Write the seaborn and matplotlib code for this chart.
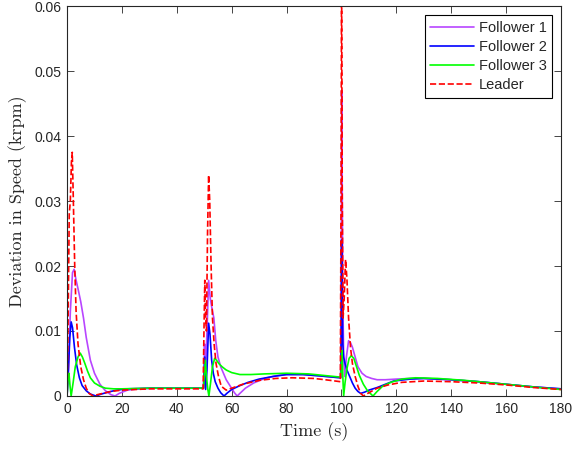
import matplotlib
matplotlib.use("Agg")
import matplotlib.pyplot as plt
import seaborn as sns
import pandas as pd

# --- data (time in s, deviation in krpm) ---
t_f1 = [0, 0.5, 1.2, 2.0, 2.6, 3.2, 4.0, 5.0, 6.0, 7.0, 8.5, 10, 12, 14, 16, 17.5, 19, 22, 26, 32, 40, 46,
        49.8, 50.1, 50.4, 51.0, 51.6, 52.2, 52.8, 53.5, 54.2, 55, 56, 57, 58, 59.5, 61, 62, 63.5, 65, 68, 72,
        76, 80, 86, 92, 97, 99.7, 99.9, 100.1, 100.3, 100.5, 100.8, 101.2, 101.8, 102.6, 103.3, 104, 105, 106,
        107.5, 109, 111, 113, 116, 120, 125, 130, 140, 150, 160, 170, 180]
v_f1 = [0, 0.004, 0.013, 0.019, 0.0195, 0.018, 0.0165, 0.0145, 0.012, 0.009, 0.0055, 0.0035, 0.0018, 0.0008,
        0.0002, 0.0, 0.0004, 0.0009, 0.0011, 0.0012, 0.0012, 0.0012,
        0.0012, 0.008, 0.003, 0.010, 0.0178, 0.015, 0.0135, 0.012, 0.0085, 0.006, 0.0045, 0.0035, 0.0025,
        0.0015, 0.0005, 0.0, 0.0006, 0.0012, 0.002, 0.0027,
        0.0031, 0.0033, 0.0033, 0.0031, 0.0029, 0.0028, 0.01, 0.047, 0.03, 0.015, 0.006, 0.003, 0.006, 0.0085,
        0.0082, 0.0075, 0.006, 0.0045,
        0.0035, 0.003, 0.0027, 0.0025, 0.0025, 0.0026, 0.0027, 0.0027, 0.0025, 0.0022, 0.0018, 0.0014, 0.0011]

t_f2 = [0, 0.5, 1.0, 1.5, 2.0, 2.7, 3.5, 4.5, 5.5, 7, 8.5, 10.5, 12.5, 15, 18, 22, 30, 40,
        49.7, 50.2, 50.5, 51.0, 51.6, 52.1, 52.7, 53.3, 54, 55, 56, 57.2, 58.5, 60, 63, 66, 70, 75, 80, 86,
        92, 97, 99.7, 99.85, 100.05, 100.25, 100.5, 100.8, 101.3, 102, 103, 104, 105, 106, 107, 108.5, 110,
        113, 116, 119, 125, 130, 140, 150, 160, 170, 180]
v_f2 = [0, 0.004, 0.009, 0.0114, 0.0105, 0.0075, 0.0048, 0.0028, 0.0016, 0.0008, 0.0003, 0.0, 0.0003,
        0.0006, 0.0009, 0.0011, 0.0012, 0.0012,
        0.0012, 0.006, 0.001, 0.004, 0.0112, 0.0095, 0.0055, 0.0035, 0.0022, 0.0012, 0.0005, 0.0, 0.0005,
        0.001, 0.0016, 0.0021, 0.0026, 0.003, 0.0033, 0.0033,
        0.0031, 0.0029, 0.0028, 0.005, 0.024, 0.015, 0.008, 0.006, 0.005, 0.004, 0.003, 0.002, 0.0012,
        0.0007, 0.0004, 0.0006, 0.0009,
        0.0013, 0.0018, 0.0023, 0.0026, 0.0027, 0.0025, 0.0022, 0.0018, 0.0014, 0.0011]

t_f3 = [0, 0.3, 0.7, 1.1, 1.5, 2.2, 3, 4, 4.8, 5.6, 6.5, 7.5, 8.5, 10, 12, 14, 17, 20, 30, 40,
        49.7, 50.0, 50.4, 50.8, 51.3, 51.7, 52.3, 53, 53.8, 54.5, 55.3, 56.5, 58, 60, 63, 67, 72, 80, 88,
        95, 99.7, 99.9, 100.2, 100.5, 100.8, 101.3, 102, 102.8, 103.6, 104.5, 105.5, 106.5, 108, 109.5,
        111.5, 113, 115, 118, 122, 127, 135, 145, 155, 165, 172, 180]
v_f3 = [0, 0.0025, 0.0035, 0.0015, 0.0, 0.002, 0.0045, 0.006, 0.0066, 0.006, 0.005, 0.0038, 0.0028, 0.002,
        0.0015, 0.0012, 0.0011, 0.0011, 0.0012, 0.0012,
        0.0012, 0.003, 0.0055, 0.003, 0.001, 0.0, 0.002, 0.0045, 0.0058, 0.0055, 0.005, 0.0045, 0.004,
        0.0036, 0.0033, 0.0033, 0.0034, 0.0035, 0.0034,
        0.0031, 0.0029, 0.004, 0.007, 0.003, 0.0, 0.002, 0.0042, 0.0058, 0.0062, 0.0058, 0.0045, 0.0032,
        0.0018, 0.0008,
        0.0, 0.0007, 0.0015, 0.0021, 0.0026, 0.0028, 0.0027, 0.0024, 0.002, 0.0016, 0.0013, 0.001]

t_ld = [0, 0.4, 0.8, 1.2, 1.6, 1.9, 2.3, 2.8, 3.3, 4, 5, 6, 7, 8, 9.5, 11, 13, 16, 20, 30, 40,
        49.6, 49.9, 50.2, 50.5, 50.8, 51.2, 51.6, 52.0, 52.5, 53.0, 53.6, 54.3, 55.2, 56.2, 58, 60, 64, 70,
        76, 82, 90, 96, 99.6, 99.85, 100.05, 100.3, 100.6, 101.0, 101.5, 102.0, 102.6, 103.3, 104, 105, 106,
        107, 108, 110, 113, 117, 122, 130, 140, 150, 160, 170, 180]
v_ld = [0, 0.012, 0.028, 0.03, 0.036, 0.0375, 0.03, 0.02, 0.013, 0.008, 0.0045, 0.0025, 0.0012, 0.0004,
        0.0, 0.0002, 0.0004, 0.0007, 0.0009, 0.0011, 0.0011,
        0.0011, 0.01, 0.0178, 0.012, 0.01, 0.025, 0.034, 0.03, 0.02, 0.012, 0.008, 0.005, 0.003, 0.0015,
        0.0009, 0.0012, 0.0018, 0.0024,
        0.0027, 0.0028, 0.0027, 0.0024, 0.0022, 0.03, 0.065, 0.03, 0.012, 0.015, 0.021, 0.018, 0.012,
        0.0075, 0.005, 0.003, 0.0015,
        0.0004, 0.0, 0.0005, 0.0012, 0.0017, 0.0021, 0.0023, 0.0022, 0.002, 0.0017, 0.0013, 0.001]

series = [("Follower 1", t_f1, v_f1, "#B845FF", "-"),
          ("Follower 2", t_f2, v_f2, "#0000FF", "-"),
          ("Follower 3", t_f3, v_f3, "#00FF00", "-"),
          ("Leader", t_ld, v_ld, "#FF0000", "--")]

sns.set_style("ticks", {"xtick.direction": "in", "ytick.direction": "in"})
plt.rcParams["font.family"] = ["Liberation Sans", "DejaVu Sans"]

fig = plt.figure(figsize=(5.73, 4.55), dpi=100)
ax = fig.add_axes([0.117, 0.1297, 0.862, 0.857])

for name, t, v, col, ls in series:
    df = pd.DataFrame({"t": t, "v": v})
    sns.lineplot(data=df, x="t", y="v", ax=ax, color=col, linestyle=ls, linewidth=1.2,
                 estimator=None, sort=False, label=name)

ax.set_xlim(0, 180)
ax.set_ylim(0, 0.06)
ax.set_xticks(range(0, 181, 20))
ax.set_yticks([0, 0.01, 0.02, 0.03, 0.04, 0.05, 0.06])
ax.set_yticklabels(["0", "0.01", "0.02", "0.03", "0.04", "0.05", "0.06"])
ax.tick_params(axis="both", which="both", direction="in", top=True, right=True,
               labelsize=10, length=5, width=0.6, color="#262626", pad=4)
for sp in ax.spines.values():
    sp.set_visible(True)
    sp.set_linewidth(0.8)
    sp.set_color("#262626")

ax.set_xlabel("Time (s)", fontsize=13, family="cmr10", labelpad=5)
ax.set_ylabel("Deviation in Speed (krpm)", fontsize=13, family="cmr10", labelpad=5)

leg = ax.legend(loc="upper right", fontsize=10.5, frameon=True, fancybox=False, framealpha=1,
                edgecolor="black", handlelength=3.0, borderaxespad=0.6, labelspacing=0.35,
                handletextpad=0.3, borderpad=0.4)
leg.get_frame().set_linewidth(0.8)

plt.savefig("out.png", dpi=100)
